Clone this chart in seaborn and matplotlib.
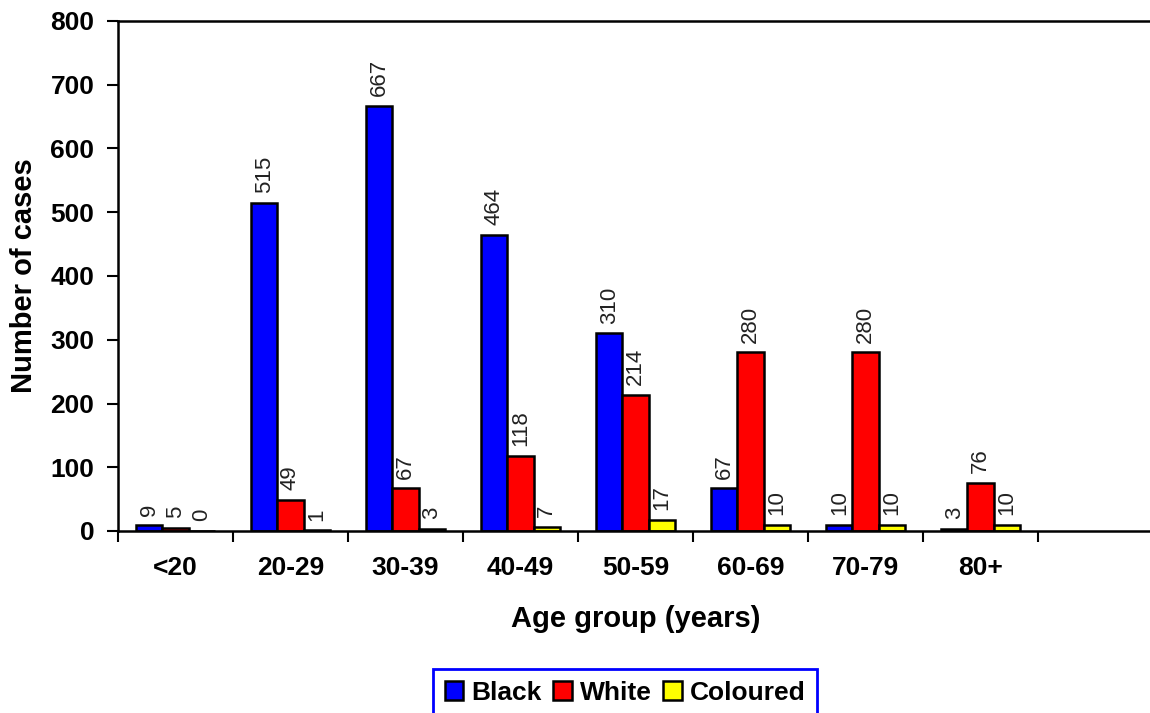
import numpy as np
import pandas as pd
import matplotlib
matplotlib.use('Agg')
import matplotlib.pyplot as plt
from matplotlib.patches import Patch
import seaborn as sns

# ---- data ----
age_groups = ['<20', '20-29', '30-39', '40-49', '50-59', '60-69', '70-79', '80+']
black = [9, 515, 667, 464, 310, 67, 10, 3]
white = [5, 49, 67, 118, 214, 280, 280, 76]
coloured = [0, 1, 3, 7, 17, 10, 10, 10]
groups = ['Black', 'White', 'Coloured']
colors = ['#0000FF', '#FF0000', '#FFFF00']

df = pd.DataFrame({
    'age': age_groups * 3,
    'cases': black + white + coloured,
    'group': [g for g in groups for _ in age_groups],
})

# ---- style ----
sns.set_style('white')
plt.rcParams['font.family'] = ['Liberation Sans', 'DejaVu Sans']
plt.rcParams['text.color'] = 'black'
plt.rcParams['axes.labelcolor'] = 'black'
plt.rcParams['xtick.color'] = 'black'
plt.rcParams['ytick.color'] = 'black'

fig = plt.figure(figsize=(11.5, 7.13), dpi=100)
ax = fig.add_axes([118 / 1150, 182 / 713, 1035 / 1150, 510 / 713])

sns.barplot(data=df, x='age', y='cases', hue='group', order=age_groups,
            hue_order=groups, palette=colors, saturation=1, width=0.68,
            edgecolor='black', linewidth=1.8, errorbar=None, ax=ax, legend=False)

for cont in ax.containers:
    ax.bar_label(cont, labels=[f'{int(v)}' for v in cont.datavalues],
                 rotation=90, padding=7, fontsize=16, color='#222222')

ax.set_ylim(0, 800)
ax.set_yticks(np.arange(0, 801, 100))
ax.set_xlim(-0.5, 8.5)

# boundary ticks (no labels), category labels on minor ticks
bounds = np.arange(-0.5, 8.6, 1)
ax.set_xticks(bounds)
ax.set_xticklabels([''] * len(bounds))
ax.set_xticks(np.arange(len(age_groups)), labels=age_groups, minor=True)
ax.tick_params(axis='x', which='major', direction='out', length=8, width=1.5,
               bottom=True)
ax.tick_params(axis='x', which='minor', length=0, pad=18, labelsize=19)
ax.tick_params(axis='y', direction='out', length=8, width=1.5, left=True,
               pad=9, labelsize=19)
for lab in ax.get_xticklabels(minor=True) + ax.get_yticklabels():
    lab.set_fontweight('bold')

for sp in ax.spines.values():
    sp.set_linewidth(1.8)
    sp.set_color('black')

ax.set_xlabel('Age group (years)', fontsize=21, fontweight='bold')
ax.set_ylabel('Number of cases', fontsize=21, fontweight='bold')
ax.xaxis.set_label_coords(0.5, -0.145)
ax.yaxis.set_label_coords(-0.077, 0.5)

handles = [Patch(facecolor=c, edgecolor='black', linewidth=1.8) for c in colors]
leg = fig.legend(handles, groups, loc='upper center', ncol=3,
                 bbox_to_anchor=(625 / 1150, 1 - 669 / 713), borderaxespad=0,
                 prop={'weight': 'bold', 'size': 19}, handlelength=0.7,
                 handleheight=0.7, handletextpad=0.3, columnspacing=0.45,
                 borderpad=0.45, fancybox=False, framealpha=1)
leg.get_frame().set_edgecolor('#0000FF')
leg.get_frame().set_linewidth(2)

fig.savefig('out.png', dpi=100)
